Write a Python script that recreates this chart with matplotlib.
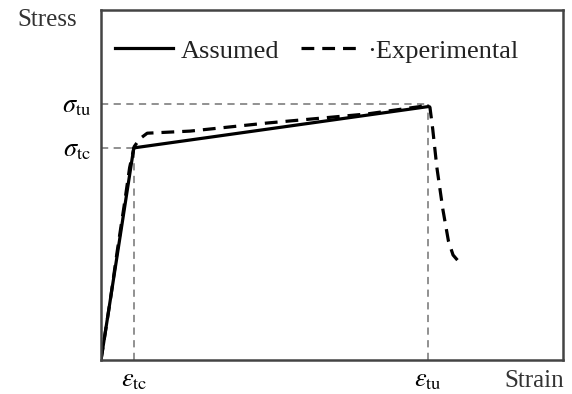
import matplotlib.pyplot as plt

plt.rcParams['font.family'] = ['Liberation Serif', 'DejaVu Serif']
plt.rcParams['mathtext.fontset'] = 'stix'

# characteristic points (arbitrary units)
eps_tc = 0.071
eps_tu = 0.708
sig_tc = 0.606
sig_tu = 0.731

assumed_x = [0, eps_tc, eps_tu]
assumed_y = [0, sig_tc, 0.724]

exp_x = [0, 0.02, 0.035, 0.05, 0.062, 0.072, 0.084, 0.1, 0.193, 0.359, 0.576, 0.69,
         0.705, 0.712, 0.718, 0.727, 0.74, 0.752, 0.762, 0.775]
exp_y = [0, 0.17, 0.31, 0.44, 0.55, 0.61, 0.632, 0.648, 0.654, 0.677, 0.703, 0.724,
         0.731, 0.722, 0.66, 0.55, 0.43, 0.34, 0.3, 0.28]

fig = plt.figure(figsize=(5.72, 3.94), dpi=100)
ax = fig.add_axes([101 / 572, 34 / 394, 462 / 572, 350 / 394])

# guide lines
guide = dict(color='#888888', ls=(0, (4, 3)), lw=1.3)
ax.plot([0, eps_tu], [sig_tu, sig_tu], **guide)
ax.plot([0, eps_tc], [sig_tc, sig_tc], **guide)
ax.plot([eps_tc, eps_tc], [0, sig_tc], **guide)
ax.plot([eps_tu, eps_tu], [0, sig_tu], **guide)

ax.plot(assumed_x, assumed_y, color='black', lw=2.3, label='Assumed')
ax.plot(exp_x, exp_y, color='black', lw=2.3, ls=(0, (4, 2.5)), label='\u00b7Experimental')

ax.set_xlim(0, 1)
ax.set_ylim(0, 1)
ax.set_xticks([eps_tc, eps_tu], [r'$\varepsilon_{\rm tc}$', r'$\varepsilon_{\rm tu}$'])
ax.set_yticks([sig_tc, sig_tu], [r'$\sigma_{\rm tc}$', r'$\sigma_{\rm tu}$'])
ax.tick_params(length=0, labelsize=19, pad=7)
for s in ax.spines.values():
    s.set_linewidth(1.8)
    s.set_color('#444444')

ax.legend(loc='center left', ncol=2, frameon=False, fontsize=19, handlelength=2.2,
          handletextpad=0.3, columnspacing=0.8, borderpad=0, borderaxespad=0,
          bbox_to_anchor=(115 / 572, 1 - 51 / 394), bbox_transform=fig.transFigure,
          labelcolor='#222222')

fig.text(17 / 572, 1 - 20 / 394, 'Stress', fontsize=18, va='center', ha='left', color='#333333')
fig.text(1 - 8 / 572, 1 - 381 / 394, 'Strain', fontsize=18, va='center', ha='right', color='#333333')

fig.savefig('out.png', dpi=100)
